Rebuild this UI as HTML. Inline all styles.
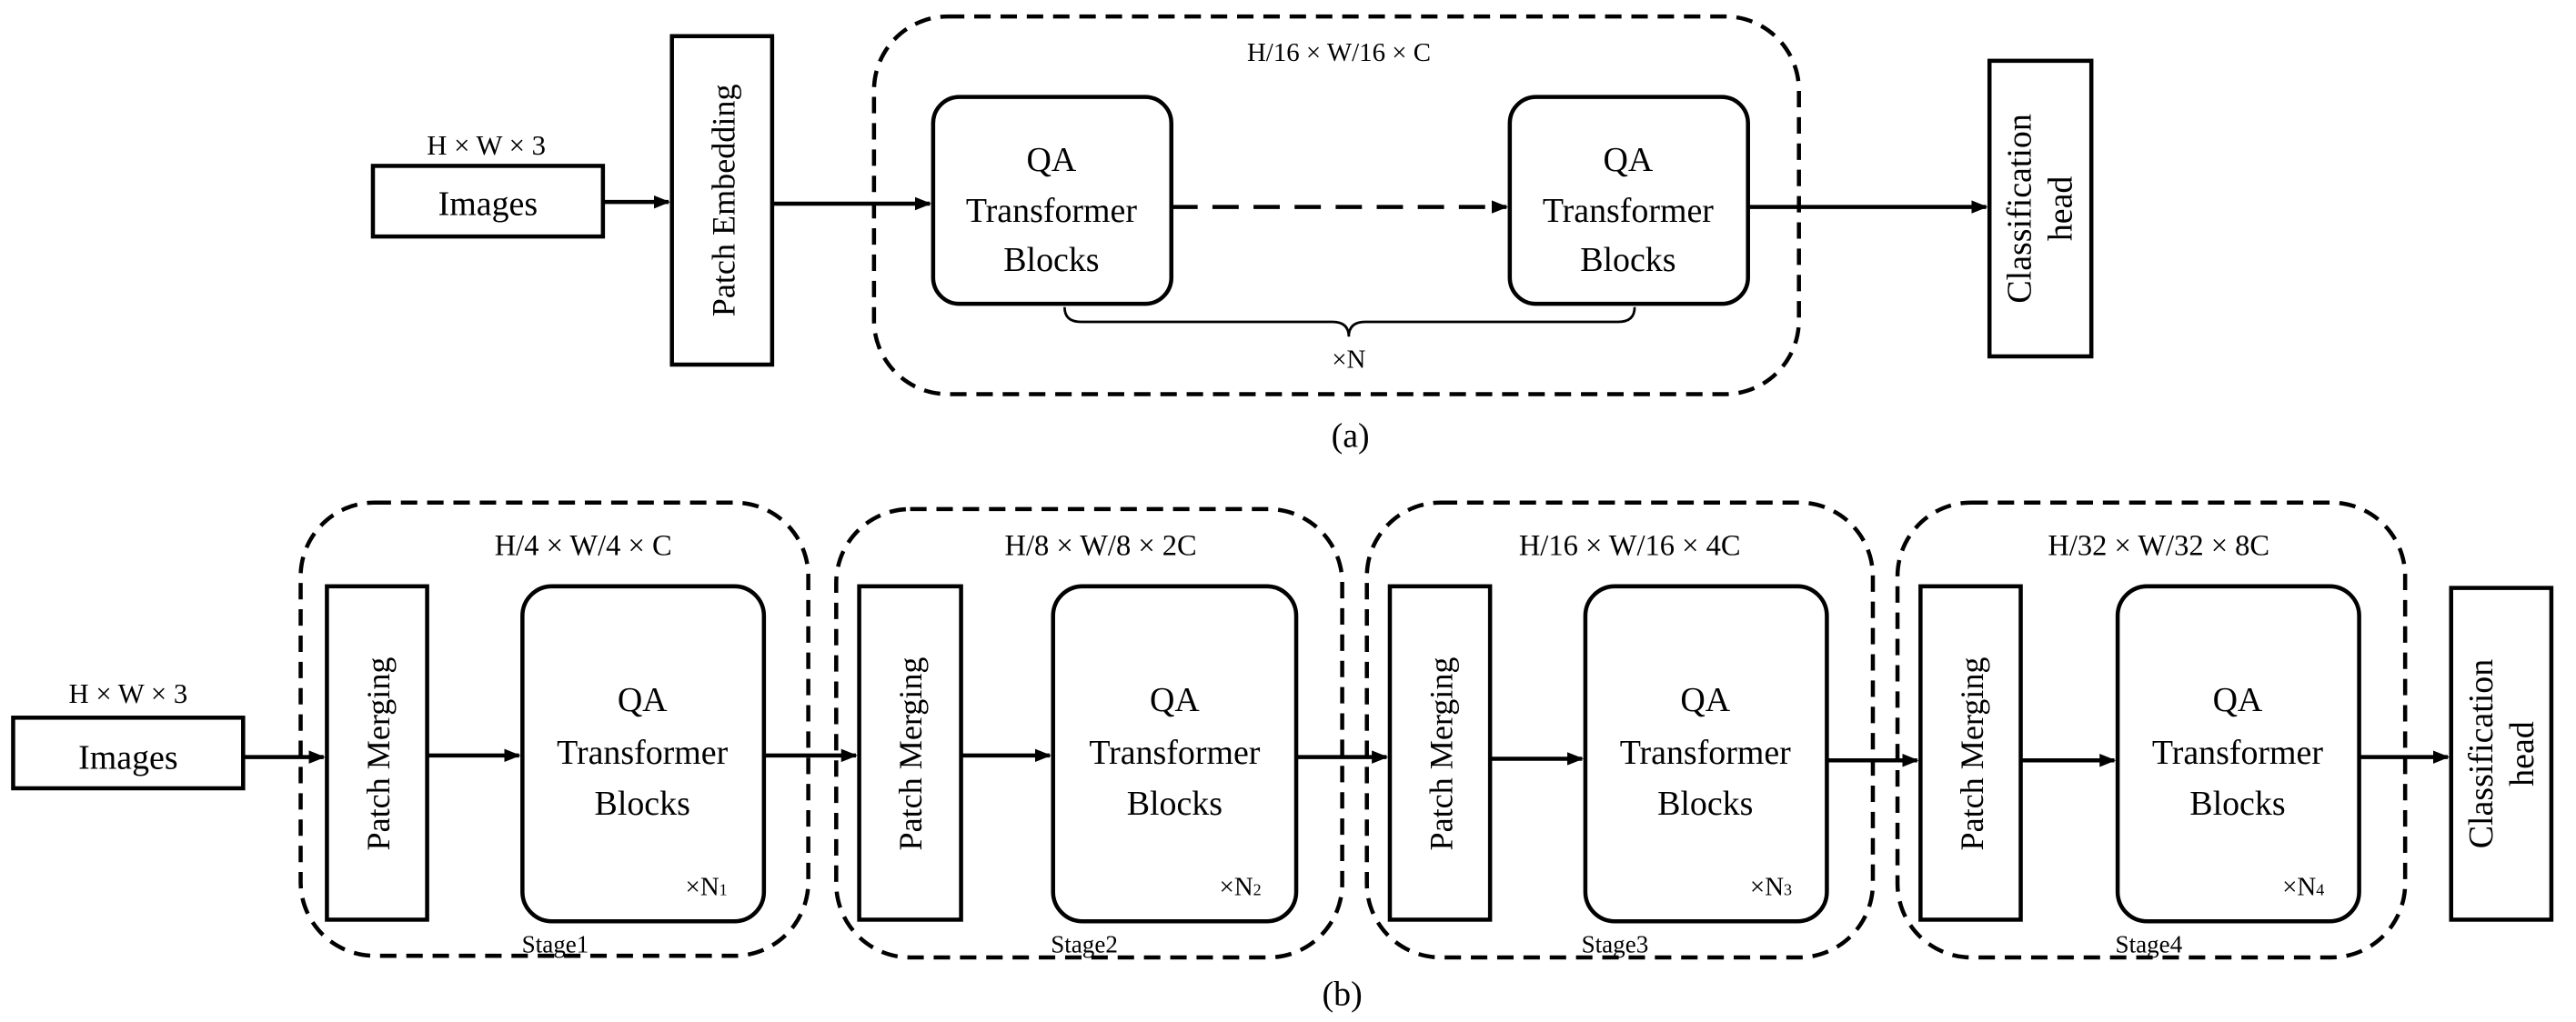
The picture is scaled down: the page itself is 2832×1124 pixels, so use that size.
<!DOCTYPE html>
<html><head><meta charset="utf-8"><style>
html,body{margin:0;padding:0;background:#fff;}
svg{display:block;}
text{font-family:"Liberation Serif",serif;fill:#000;}
</style></head><body>
<svg width="2832" height="1124" viewBox="0 0 1568 622.3" xmlns="http://www.w3.org/2000/svg">
<defs>
<marker id="ar" markerWidth="10" markerHeight="10" refX="9" refY="5" orient="auto" markerUnits="userSpaceOnUse">
<path d="M0,1 L10,5 L0,9 Z" fill="#000"/></marker>
</defs>
<g fill="none" stroke="#000" stroke-width="2.5">
<rect x="227" y="101" width="140" height="43"/>
<rect x="409" y="22" width="61" height="200"/>
<rect x="532" y="10" width="563" height="230" rx="45" stroke-dasharray="10,6"/>
<rect x="568" y="59" width="145" height="126" rx="16"/>
<rect x="919" y="59" width="145" height="126" rx="16"/>
<rect x="1211" y="37" width="62" height="180"/>
<line x1="367" y1="123" x2="407" y2="123" marker-end="url(#ar)"/>
<line x1="470" y1="124" x2="566" y2="124" marker-end="url(#ar)"/>
<line x1="713" y1="126" x2="917" y2="126" stroke-dasharray="16,9" marker-end="url(#ar)"/>
<line x1="1064" y1="126" x2="1209" y2="126" marker-end="url(#ar)"/>
<path d="M648,187 Q648,196 658,196 L811,196 Q821,196 821,205 Q821,196 831,196 L985,196 Q995,196 995,187" stroke-width="1.5"/>
<rect x="8" y="437" width="140" height="43"/>
<line x1="148" y1="461" x2="197" y2="461" marker-end="url(#ar)"/>
<rect x="183" y="306" width="309" height="276" rx="45" stroke-dasharray="10,6"/>
<rect x="509" y="310" width="308" height="273" rx="45" stroke-dasharray="10,6"/>
<rect x="832" y="306" width="308" height="277" rx="45" stroke-dasharray="10,6"/>
<rect x="1155" y="306" width="309" height="277" rx="45" stroke-dasharray="10,6"/>
<rect x="199" y="357" width="61" height="203"/>
<rect x="523" y="357" width="62" height="203"/>
<rect x="846" y="357" width="61" height="203"/>
<rect x="1169" y="357" width="61" height="203"/>
<rect x="318" y="357" width="147" height="204" rx="18"/>
<rect x="641" y="357" width="148" height="204" rx="18"/>
<rect x="965" y="357" width="147" height="204" rx="18"/>
<rect x="1289" y="357" width="147" height="204" rx="18"/>
<rect x="1492" y="358" width="61" height="202"/>
<line x1="260" y1="460" x2="316" y2="460" marker-end="url(#ar)"/>
<line x1="465" y1="460" x2="521" y2="460" marker-end="url(#ar)"/>
<line x1="585" y1="460" x2="639" y2="460" marker-end="url(#ar)"/>
<line x1="789" y1="461" x2="844" y2="461" marker-end="url(#ar)"/>
<line x1="907" y1="462" x2="963" y2="462" marker-end="url(#ar)"/>
<line x1="1112" y1="463" x2="1167" y2="463" marker-end="url(#ar)"/>
<line x1="1230" y1="463" x2="1287" y2="463" marker-end="url(#ar)"/>
<line x1="1436" y1="461" x2="1490" y2="461" marker-end="url(#ar)"/>
</g>
<g text-anchor="middle">
<text x="296" y="94" font-size="17">H × W × 3</text>
<text x="297" y="131" font-size="21">Images</text>
<text transform="translate(447,122) rotate(-90)" font-size="20">Patch Embedding</text>
<text x="815" y="37" font-size="16">H/16 × W/16 × C</text>
<text x="640" y="104" font-size="21">QA</text>
<text x="640" y="135" font-size="21">Transformer</text>
<text x="640" y="165" font-size="21">Blocks</text>
<text x="991" y="104" font-size="21">QA</text>
<text x="991" y="135" font-size="21">Transformer</text>
<text x="991" y="165" font-size="21">Blocks</text>
<text x="821" y="224" font-size="16">×N</text>
<text transform="translate(1236,127) rotate(-90)" font-size="21">Classification</text>
<text transform="translate(1261,127) rotate(-90)" font-size="21">head</text>
<text x="822" y="272" font-size="21">(a)</text>

<text x="78" y="428" font-size="17">H × W × 3</text>
<text x="78" y="468" font-size="21">Images</text>
<text x="355" y="338" font-size="18">H/4 × W/4 × C</text>
<text x="670" y="338" font-size="18">H/8 × W/8 × 2C</text>
<text x="992" y="338" font-size="18">H/16 × W/16 × 4C</text>
<text x="1314" y="338" font-size="18">H/32 × W/32 × 8C</text>
<text transform="translate(237,459) rotate(-90)" font-size="20">Patch Merging</text>
<text transform="translate(561,459) rotate(-90)" font-size="20">Patch Merging</text>
<text transform="translate(884,459) rotate(-90)" font-size="20">Patch Merging</text>
<text transform="translate(1207,459) rotate(-90)" font-size="20">Patch Merging</text>
<text x="391" y="433" font-size="21">QA</text><text x="391" y="465" font-size="21">Transformer</text><text x="391" y="496" font-size="21">Blocks</text>
<text x="715" y="433" font-size="21">QA</text><text x="715" y="465" font-size="21">Transformer</text><text x="715" y="496" font-size="21">Blocks</text>
<text x="1038" y="433" font-size="21">QA</text><text x="1038" y="465" font-size="21">Transformer</text><text x="1038" y="496" font-size="21">Blocks</text>
<text x="1362" y="433" font-size="21">QA</text><text x="1362" y="465" font-size="21">Transformer</text><text x="1362" y="496" font-size="21">Blocks</text>
<text x="430" y="545" font-size="16">×N<tspan font-size="10">1</tspan></text>
<text x="755" y="545" font-size="16">×N<tspan font-size="10">2</tspan></text>
<text x="1078" y="545" font-size="16">×N<tspan font-size="10">3</tspan></text>
<text x="1402" y="545" font-size="16">×N<tspan font-size="10">4</tspan></text>
<text x="338" y="580" font-size="15">Stage1</text>
<text x="660" y="580" font-size="15">Stage2</text>
<text x="983" y="580" font-size="15">Stage3</text>
<text x="1308" y="580" font-size="15">Stage4</text>
<text transform="translate(1517,459) rotate(-90)" font-size="21">Classification</text>
<text transform="translate(1542,459) rotate(-90)" font-size="21">head</text>
<text x="817" y="612" font-size="21">(b)</text>
</g>
</svg>
</body></html>
